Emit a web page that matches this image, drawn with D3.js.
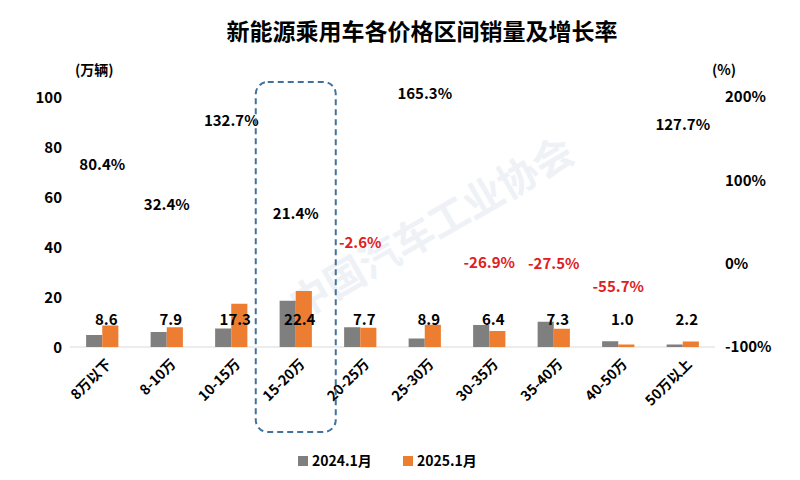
<!DOCTYPE html>
<html><head><meta charset="utf-8">
<script src="https://cdn.jsdelivr.net/npm/d3@7"></script>
<style>body{margin:0;background:#fff}text{font-family:"Noto Sans CJK SC","Noto Sans",sans-serif}</style>
</head><body><svg id="c" width="800" height="480"></svg>
<script>
const categories=["8万以下","8-10万","10-15万","15-20万","20-25万","25-30万","30-35万","35-40万","40-50万","50万以上"];
const sales2024=[4.8,6.0,7.4,18.5,7.9,3.4,8.8,10.1,2.3,1.0];
const sales2025=[8.6,7.9,17.3,22.4,7.7,8.9,6.4,7.3,1.0,2.2];
const growth=[80.4,32.4,132.7,21.4,-2.6,165.3,-26.9,-27.5,-55.7,127.7];
const leftTicks=[0,20,40,60,80,100];
const rightTicks=[-100,0,100,200];
const series=["2024.1月","2025.1月"];
const colors=["#7f7f7f","#ed7d31"];

const svg=d3.select("#c");
const x=d3.scaleBand().domain(categories).range([70,715]).paddingInner(0.5).paddingOuter(0.25);
const y=d3.scaleLinear().domain([0,100]).range([347,97]);
const y2=d3.scaleLinear().domain([-100,200]).range([347,97]);

svg.append("text").attr("transform","translate(300,320) rotate(-30)").attr("font-size",40).attr("font-weight","bold").attr("fill","#eef2f6").text("中国汽车工业协会");

svg.append("text").attr("x",422).attr("y",40).attr("text-anchor","middle").attr("font-size",23).attr("font-weight","bold").text("新能源乘用车各价格区间销量及增长率");
svg.append("text").attr("x",75).attr("y",75).attr("font-size",14).attr("font-weight","bold").text("(万辆)");
svg.append("text").attr("x",712).attr("y",75).attr("font-size",14).attr("font-weight","bold").text("(%)");

const ya=svg.append("g").attr("transform","translate(62,0)").call(d3.axisLeft(y).tickValues(leftTicks).tickSize(0).tickPadding(0));
ya.select(".domain").remove();
ya.selectAll("text").attr("font-size",15).attr("font-weight","bold").attr("fill","#000").attr("text-anchor","end").attr("dy","0.35em");
const yb=svg.append("g").attr("transform","translate(725,0)").call(d3.axisRight(y2).tickValues(rightTicks).tickSize(0).tickPadding(0).tickFormat(d=>d+"%"));
yb.select(".domain").remove();
yb.selectAll("text").attr("font-size",15).attr("font-weight","bold").attr("fill","#000");

svg.append("line").attr("x1",70).attr("x2",715).attr("y1",y(0)).attr("y2",y(0)).attr("stroke","#d9d9d9");

const bw=x.bandwidth()/2;
[sales2024,sales2025].forEach((arr,si)=>{
  svg.append("g").selectAll("rect").data(arr).join("rect")
   .attr("x",(d,i)=>x(categories[i])+si*bw).attr("width",bw)
   .attr("y",d=>y(d)).attr("height",d=>y(0)-y(d)).attr("fill",colors[si]);
});
svg.append("g").selectAll("text").data(sales2025).join("text")
 .attr("x",(d,i)=>x(categories[i])+x.bandwidth()/2+4).attr("y",y(8.8))
 .attr("text-anchor","middle").attr("font-size",15).attr("font-weight","bold").text(d=>d.toFixed(1));
svg.append("g").selectAll("text").data(growth).join("text")
 .attr("x",(d,i)=>x(categories[i])+x.bandwidth()/2).attr("y",d=>y2(d)-(d<0?18:27))
 .attr("text-anchor","middle").attr("font-size",15).attr("font-weight","bold")
 .attr("fill",d=>d<0?"#e02020":"#000").text(d=>d.toFixed(1)+"%");

svg.append("g").selectAll("text").data(categories).join("text")
 .attr("transform",d=>`translate(${x(d)+x.bandwidth()/2+10},${365}) rotate(-45)`)
 .attr("text-anchor","end").attr("font-size",14).attr("font-weight","bold").text(d=>d);

const c=x("15-20万")+x.bandwidth()/2;
svg.append("rect").attr("x",c-40).attr("y",82).attr("width",80).attr("height",350).attr("rx",12)
 .attr("fill","none").attr("stroke","#41719c").attr("stroke-width",2).attr("stroke-dasharray","6,4");

const lg=svg.append("g");
series.forEach((s,i)=>{
  const lx=298+i*105;
  lg.append("rect").attr("x",lx).attr("y",456).attr("width",10).attr("height",10).attr("fill",colors[i]);
  lg.append("text").attr("x",lx+14).attr("y",466).attr("font-size",14).attr("font-weight","bold").text(s);
});
</script></body></html>
